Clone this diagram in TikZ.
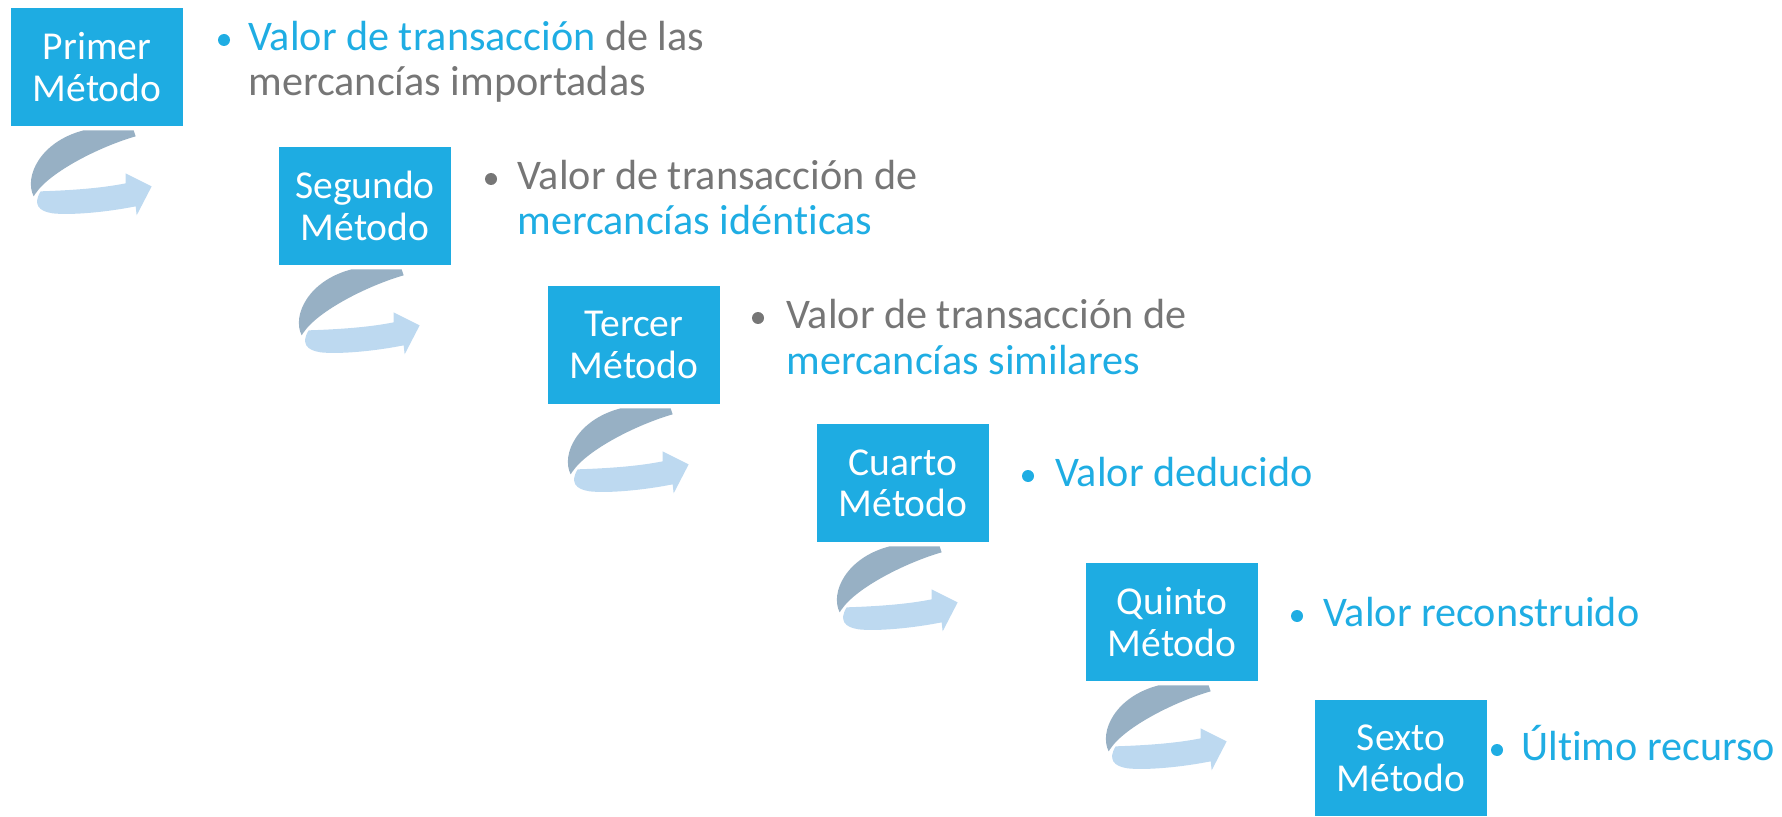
\documentclass[tikz,border=0pt]{standalone}
\usepackage{fontspec}
\setmainfont{Carlito}[Ligatures=CommonOff]
\usepackage{tikz}

\definecolor{cajaazul}{RGB}{30,172,226}
\definecolor{textoazul}{RGB}{31,173,227}
\definecolor{textogris}{RGB}{118,118,118}
\definecolor{giroosc}{RGB}{151,176,196}
\definecolor{giroclaro}{RGB}{189,217,240}

\NewDocumentCommand{\drawgiro}{m}{
    % curved arrow under the box #1
    \begin{scope}[shift={(#1.south west)}]
        \fill[giroclaro] (30,-65) .. controls (60,-64) and (90,-62) .. (115,-57) -- (115,-47) -- (141,-60) -- (126,-89) -- (125,-80)
            .. controls (95,-86) and (60,-89) .. (42,-87) .. controls (28,-85) and (22,-78) .. (30,-65) -- cycle;
        \fill[giroosc] (73,-4) -- (123,-4) -- (125,-10) .. controls (90,-20) and (40,-45) .. (25,-67) -- (23,-70)
            .. controls (13,-50) and (30,-15) .. (73,-4) -- cycle;
    \end{scope}
}

\begin{document}
\begin{tikzpicture}[x=0.02cm, y=0.02cm,
    metodo/.style={rectangle, fill=cajaazul, text=white, align=center, inner sep=0pt,
        minimum width=3.44cm, minimum height=2.36cm, font=\fontsize{22.5}{23.5}\selectfont},
    punto/.style={circle, fill=#1, inner sep=0pt, minimum size=0.24cm},
    desc/.style={anchor=base west, align=left, inner sep=0pt, text=textogris,
        font=\fontsize{24}{26}\selectfont}]
    \useasboundingbox (0,0) rectangle (1782,816);

    % Primer metodo
    \node[metodo] (m1) at (97,749) {Primer\\Método};
    \node[punto=textoazul] (p1) at (224,776) {};
    \node[desc] (t1) at (248,720) {{\color{textoazul}Valor de transacción} de las\\mercancías importadas};
    \drawgiro{m1}

    % Segundo metodo
    \node[metodo] (m2) at (365,610) {Segundo\\Método};
    \node[punto=textogris] (p2) at (491,637) {};
    \node[desc] (t2) at (517,581) {Valor de transacción de\\{\color{textoazul}mercancías idénticas}};
    \drawgiro{m2}

    % Tercer metodo
    \node[metodo] (m3) at (634,471) {Tercer\\Método};
    \node[punto=textogris] (p3) at (758,498) {};
    \node[desc] (t3) at (786,442) {Valor de transacción de\\{\color{textoazul}mercancías similares}};
    \drawgiro{m3}

    % Cuarto metodo
    \node[metodo] (m4) at (903,333) {Cuarto\\Método};
    \node[punto=textoazul] (p4) at (1028,340) {};
    \node[desc, text=textoazul] (t4) at (1055,330) {Valor deducido};
    \drawgiro{m4}

    % Quinto metodo
    \node[metodo] (m5) at (1172,194) {Quinto\\Método};
    \node[punto=textoazul] (p5) at (1297,200) {};
    \node[desc, text=textoazul] (t5) at (1323,190) {Valor reconstruido};
    \drawgiro{m5}

    % Sexto metodo
    \node[metodo, minimum height=2.32cm] (m6) at (1401,58) {Sexto\\Método};
    \node[punto=textoazul] (p6) at (1497,66) {};
    \node[desc, text=textoazul] (t6) at (1521,56) {Último recurso};
\end{tikzpicture}
\end{document}
